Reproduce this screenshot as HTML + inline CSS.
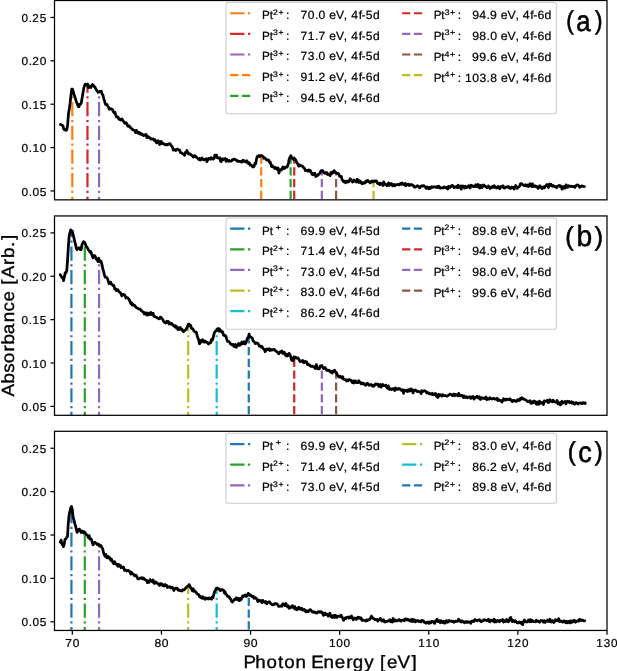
<!DOCTYPE html>
<html><head><meta charset="utf-8"><style>html,body{margin:0;padding:0;background:#fff;}svg{display:block;will-change:transform;}</style></head><body>
<svg width="617" height="671" viewBox="0 0 617 671" font-family='"Liberation Sans", sans-serif'>
<style>text{text-rendering:geometricPrecision;fill:#000;stroke:#000;stroke-width:0.22px;}</style>
<rect width="617" height="671" fill="#fff"/>
<clipPath id="clip0"><rect x="54.5" y="0.5" width="552.5" height="199.35"/></clipPath>
<g clip-path="url(#clip0)" stroke-width="2.229" fill="none">
<path d="M72.32,234.57V88.48" stroke="#ff7f0e" stroke-dasharray="14.27,3.57,2.23,3.57"/>
<path d="M87.47,234.57V83.09" stroke="#d62728" stroke-dasharray="14.27,3.57,2.23,3.57"/>
<path d="M99.06,234.57V91.22" stroke="#9467bd" stroke-dasharray="14.27,3.57,2.23,3.57"/>
<path d="M261.24,234.57V155.49" stroke="#ff7f0e" stroke-dasharray="8.25,3.57"/>
<path d="M290.65,234.57V156.97" stroke="#2ca02c" stroke-dasharray="8.25,3.57"/>
<path d="M294.21,234.57V158.04" stroke="#d62728" stroke-dasharray="8.25,3.57"/>
<path d="M321.84,234.57V170.59" stroke="#9467bd" stroke-dasharray="8.25,3.57"/>
<path d="M336.10,234.57V172.62" stroke="#8c564b" stroke-dasharray="8.25,3.57"/>
<path d="M373.52,234.57V181.09" stroke="#bcbd22" stroke-dasharray="8.25,3.57"/>
<path d="M60.5,124.5 61.3,124.8 62.1,125.4 62.9,125.7 63.7,128.9 64.5,129.8 65.3,129.7 66.1,130.4 66.9,129.2 67.7,124.2 68.5,113.6 69.3,108.9 70.1,103.0 70.9,95.6 71.7,89.1 72.5,89.2 73.3,92.0 74.1,94.7 74.9,96.9 75.7,99.6 76.5,102.2 77.3,103.6 78.1,106.5 78.9,106.8 79.7,104.3 80.5,104.2 81.3,102.8 82.1,98.1 82.9,93.6 83.7,88.4 84.5,85.9 85.3,84.2 86.1,84.6 86.9,85.1 87.7,84.0 88.5,87.6 89.3,86.0 90.1,86.0 90.9,87.5 91.7,85.6 92.5,84.4 93.3,85.2 94.1,86.5 94.9,86.9 95.7,88.7 96.5,90.0 97.3,91.3 98.1,92.4 98.9,92.0 99.7,91.4 100.5,91.3 101.3,91.2 102.1,94.1 102.9,95.0 103.7,98.4 104.5,100.7 105.3,104.0 106.1,104.8 106.9,104.5 107.7,106.0 108.5,107.0 109.3,109.2 110.1,109.2 110.9,108.6 111.7,109.1 112.5,109.6 113.3,111.3 114.1,112.9 114.9,112.3 115.7,115.0 116.5,116.9 117.3,116.8 118.1,117.2 118.9,119.1 119.7,119.3 120.5,120.0 121.3,119.2 122.1,119.0 122.9,120.8 123.7,121.3 124.5,123.0 125.3,123.4 126.1,122.7 126.9,123.8 127.7,126.0 128.5,126.4 129.3,126.0 130.1,127.1 130.9,128.0 131.7,128.6 132.5,129.6 133.3,129.9 134.1,130.3 134.9,130.9 135.7,132.6 136.5,130.4 137.3,132.7 138.1,133.2 138.9,132.2 139.7,133.8 140.5,133.2 141.3,134.6 142.1,134.0 142.9,134.9 143.7,135.6 144.5,135.2 145.3,134.5 146.1,134.4 146.9,137.6 147.7,136.7 148.5,136.7 149.3,137.8 150.1,137.9 150.9,139.1 151.7,138.8 152.5,139.1 153.3,139.0 154.1,140.4 154.9,139.7 155.7,141.5 156.5,142.8 157.3,141.0 158.1,140.7 158.9,143.0 159.7,144.5 160.5,141.5 161.3,141.4 162.1,143.5 162.9,143.1 163.7,144.0 164.5,144.2 165.3,144.9 166.1,144.3 166.9,144.9 167.7,144.5 168.5,143.9 169.3,144.2 170.1,143.7 170.9,145.5 171.7,145.9 172.5,147.2 173.3,150.1 174.1,149.4 174.9,149.8 175.7,150.5 176.5,149.3 177.3,149.1 178.1,149.4 178.9,150.2 179.7,150.1 180.5,152.6 181.3,152.6 182.1,153.3 182.9,153.9 183.7,154.0 184.5,155.4 185.3,152.5 186.1,152.9 186.9,150.5 187.7,152.6 188.5,154.0 189.3,153.7 190.1,153.8 190.9,154.8 191.7,155.5 192.5,155.7 193.3,157.1 194.1,155.9 194.9,155.6 195.7,156.6 196.5,157.2 197.3,158.0 198.1,158.6 198.9,159.6 199.7,158.4 200.5,160.1 201.3,158.7 202.1,157.9 202.9,159.2 203.7,159.9 204.5,159.5 205.3,159.4 206.1,158.6 206.9,161.7 207.7,160.2 208.5,158.5 209.3,158.6 210.1,159.2 210.9,157.7 211.7,158.9 212.5,158.1 213.3,159.1 214.1,158.5 214.9,155.1 215.7,156.7 216.5,155.1 217.3,157.8 218.1,157.6 218.9,158.4 219.7,157.8 220.5,160.9 221.3,161.6 222.1,158.9 222.9,159.9 223.7,158.8 224.5,159.2 225.3,158.5 226.1,161.4 226.9,159.4 227.7,160.3 228.5,161.2 229.3,160.5 230.1,161.1 230.9,161.1 231.7,160.9 232.5,159.5 233.3,159.5 234.1,159.1 234.9,159.3 235.7,160.0 236.5,160.1 237.3,161.4 238.1,160.9 238.9,161.4 239.7,161.4 240.5,161.9 241.3,161.1 242.1,162.1 242.9,160.4 243.7,160.3 244.5,161.4 245.3,161.8 246.1,161.6 246.9,160.7 247.7,163.1 248.5,163.5 249.3,162.7 250.1,165.1 250.9,164.8 251.7,165.3 252.5,166.8 253.3,167.0 254.1,166.4 254.9,163.3 255.7,163.8 256.5,159.2 257.3,156.4 258.1,156.6 258.9,155.4 259.7,156.6 260.5,156.0 261.3,155.4 262.1,155.8 262.9,156.3 263.7,158.3 264.5,157.9 265.3,158.2 266.1,159.4 266.9,160.1 267.7,160.0 268.5,159.9 269.3,162.0 270.1,161.9 270.9,164.3 271.7,166.6 272.5,165.8 273.3,167.1 274.1,167.3 274.9,168.5 275.7,167.5 276.5,168.3 277.3,169.6 278.1,167.9 278.9,173.1 279.7,170.6 280.5,169.7 281.3,170.1 282.1,168.5 282.9,166.9 283.7,168.6 284.5,168.5 285.3,167.2 286.1,167.0 286.9,167.2 287.7,165.8 288.5,162.8 289.3,158.6 290.1,157.0 290.9,155.6 291.7,157.8 292.5,158.5 293.3,159.4 294.1,158.0 294.9,159.5 295.7,160.0 296.5,162.0 297.3,163.1 298.1,164.9 298.9,166.2 299.7,165.0 300.5,165.2 301.3,166.0 302.1,166.2 302.9,166.5 303.7,167.8 304.5,168.3 305.3,170.5 306.1,170.1 306.9,170.7 307.7,171.1 308.5,169.9 309.3,171.2 310.1,170.3 310.9,171.7 311.7,173.5 312.5,174.7 313.3,173.5 314.1,174.5 314.9,173.3 315.7,176.5 316.5,176.0 317.3,175.7 318.1,174.6 318.9,174.2 319.7,173.4 320.5,171.6 321.3,170.6 322.1,170.5 322.9,170.8 323.7,172.5 324.5,173.1 325.3,172.7 326.1,173.5 326.9,172.5 327.7,174.5 328.5,174.1 329.3,174.6 330.1,175.6 330.9,172.5 331.7,173.8 332.5,172.0 333.3,172.7 334.1,170.6 334.9,171.6 335.7,172.6 336.5,173.3 337.3,173.3 338.1,173.4 338.9,174.4 339.7,176.4 340.5,176.5 341.3,176.4 342.1,179.7 342.9,180.7 343.7,181.7 344.5,181.2 345.3,182.7 346.1,181.1 346.9,182.2 347.7,181.1 348.5,181.9 349.3,181.2 350.1,178.7 350.9,179.7 351.7,180.5 352.5,182.1 353.3,181.7 354.1,179.9 354.9,181.1 355.7,181.1 356.5,182.0 357.3,179.2 358.1,180.6 358.9,182.5 359.7,180.8 360.5,181.3 361.3,183.0 362.1,183.8 362.9,182.7 363.7,183.4 364.5,182.4 365.3,182.8 366.1,180.9 366.9,181.5 367.7,180.4 368.5,181.4 369.3,181.8 370.1,182.9 370.9,182.2 371.7,181.0 372.5,181.9 373.3,181.8 374.1,180.8 374.9,180.8 375.7,181.5 376.5,181.0 377.3,183.1 378.1,183.7 378.9,183.1 379.7,184.7 380.5,183.2 381.3,184.0 382.1,183.6 382.9,185.5 383.7,181.9 384.5,183.6 385.3,184.5 386.1,184.5 386.9,185.8 387.7,184.2 388.5,182.9 389.3,185.5 390.1,183.6 390.9,184.3 391.7,183.7 392.5,185.8 393.3,185.7 394.1,184.4 394.9,185.8 395.7,185.0 396.5,184.6 397.3,184.7 398.1,184.3 398.9,184.8 399.7,184.3 400.5,183.5 401.3,184.5 402.1,183.0 402.9,183.8 403.7,184.1 404.5,185.1 405.3,183.5 406.1,185.7 406.9,184.5 407.7,184.4 408.5,184.2 409.3,185.5 410.1,185.3 410.9,184.5 411.7,184.6 412.5,185.3 413.3,185.3 414.1,187.0 414.9,187.3 415.7,186.9 416.5,186.4 417.3,185.7 418.1,186.1 418.9,186.8 419.7,187.9 420.5,186.8 421.3,185.8 422.1,186.1 422.9,185.8 423.7,185.6 424.5,186.3 425.3,186.8 426.1,188.4 426.9,187.0 427.7,188.2 428.5,188.7 429.3,187.2 430.1,188.6 430.9,187.8 431.7,186.7 432.5,187.3 433.3,187.1 434.1,186.8 434.9,186.8 435.7,187.1 436.5,187.5 437.3,186.4 438.1,187.3 438.9,186.1 439.7,187.8 440.5,188.2 441.3,187.8 442.1,187.8 442.9,188.0 443.7,186.8 444.5,187.1 445.3,187.6 446.1,187.9 446.9,187.2 447.7,189.0 448.5,186.4 449.3,187.3 450.1,187.5 450.9,186.2 451.7,185.7 452.5,185.4 453.3,186.6 454.1,187.6 454.9,186.9 455.7,187.0 456.5,186.6 457.3,187.6 458.1,185.2 458.9,187.4 459.7,187.3 460.5,186.0 461.3,189.2 462.1,186.0 462.9,186.3 463.7,186.1 464.5,188.1 465.3,186.2 466.1,187.6 466.9,187.5 467.7,187.1 468.5,185.6 469.3,186.1 470.1,188.0 470.9,185.2 471.7,185.5 472.5,186.0 473.3,186.7 474.1,186.1 474.9,186.5 475.7,184.8 476.5,186.6 477.3,186.3 478.1,184.4 478.9,187.3 479.7,188.0 480.5,185.4 481.3,186.2 482.1,187.6 482.9,185.2 483.7,185.0 484.5,185.7 485.3,186.5 486.1,186.5 486.9,187.6 487.7,187.3 488.5,185.9 489.3,187.4 490.1,188.5 490.9,187.7 491.7,187.4 492.5,186.4 493.3,187.3 494.1,185.7 494.9,187.4 495.7,186.9 496.5,188.1 497.3,187.7 498.1,186.4 498.9,187.6 499.7,188.7 500.5,186.6 501.3,187.0 502.1,186.7 502.9,185.8 503.7,187.8 504.5,188.1 505.3,187.5 506.1,187.0 506.9,186.8 507.7,187.2 508.5,186.5 509.3,188.0 510.1,188.3 510.9,188.3 511.7,187.0 512.5,187.6 513.3,187.4 514.1,189.1 514.9,187.5 515.7,185.5 516.5,187.3 517.3,188.4 518.1,187.0 518.9,186.8 519.7,185.8 520.5,183.7 521.3,183.7 522.1,184.1 522.9,185.0 523.7,185.3 524.5,185.7 525.3,184.8 526.1,186.1 526.9,185.2 527.7,185.0 528.5,186.6 529.3,185.2 530.1,183.8 530.9,185.4 531.7,186.6 532.5,183.9 533.3,186.5 534.1,186.6 534.9,185.8 535.7,185.8 536.5,186.8 537.3,186.7 538.1,188.4 538.9,187.6 539.7,185.8 540.5,186.3 541.3,187.6 542.1,188.6 542.9,187.0 543.7,186.8 544.5,187.9 545.3,186.1 546.1,185.6 546.9,184.5 547.7,185.2 548.5,187.5 549.3,184.2 550.1,185.5 550.9,184.2 551.7,185.6 552.5,186.4 553.3,185.5 554.1,186.5 554.9,186.6 555.7,186.5 556.5,187.7 557.3,186.9 558.1,186.0 558.9,185.6 559.7,185.5 560.5,186.8 561.3,186.3 562.1,189.2 562.9,188.4 563.7,186.6 564.5,186.4 565.3,188.1 566.1,184.8 566.9,186.1 567.7,187.3 568.5,185.7 569.3,186.0 570.1,186.0 570.9,186.7 571.7,186.2 572.5,186.5 573.3,186.7 574.1,186.4 574.9,187.4 575.7,185.9 576.5,185.2 577.3,184.9 578.1,185.0 578.9,186.0 579.7,187.4 580.5,186.7 581.3,186.1 582.1,185.8 582.9,186.3 583.7,186.5 584.5,186.5" stroke="#000" stroke-width="2.75" stroke-linejoin="round" stroke-linecap="round"/>
</g>
<rect x="226.0" y="2.50" width="330.35" height="111.30" rx="2.2" fill="#fff" fill-opacity="0.8" stroke="#cccccc" stroke-width="1.1"/>
<path d="M230.15,13.25h20.6" stroke="#ff7f0e" stroke-width="2.229" stroke-dasharray="14.27,3.57,2.23,3.57" fill="none"/>
<text transform="translate(262.35 19.15) scale(0.9772 1)" x="-0.29 7.55" y="0" font-size="11.92">Pt</text>
<text transform="translate(273.05 14.65) scale(1.0963 1)" x="-0.12 4.91" y="0" font-size="7.91">2+</text>
<text transform="translate(285.90 19.15) scale(1.0256 1)" x="0.20" y="0" font-size="11.92">:</text>
<text transform="translate(300.40 19.15) scale(1.0153 1)" x="0.20 7.30 14.27 17.92 24.78 28.45 35.00 42.78 46.32 50.08 57.38 60.27 64.44 71.50" y="0" font-size="11.92">70.0 eV, 4f-5d</text>
<path d="M230.15,33.88h20.6" stroke="#d62728" stroke-width="2.229" stroke-dasharray="14.27,3.57,2.23,3.57" fill="none"/>
<text transform="translate(262.35 39.78) scale(0.9772 1)" x="-0.29 7.55" y="0" font-size="11.92">Pt</text>
<text transform="translate(273.05 35.28) scale(1.0920 1)" x="-0.01 4.94" y="0" font-size="7.91">3+</text>
<text transform="translate(285.90 39.78) scale(1.0256 1)" x="0.20" y="0" font-size="11.92">:</text>
<text transform="translate(300.40 39.78) scale(1.0092 1)" x="0.22 7.31 14.37 18.03 24.93 28.64 35.23 43.05 46.60 50.40 57.74 60.65 64.85 71.95" y="0" font-size="11.92">71.7 eV, 4f-5d</text>
<path d="M230.15,54.51h20.6" stroke="#9467bd" stroke-width="2.229" stroke-dasharray="14.27,3.57,2.23,3.57" fill="none"/>
<text transform="translate(262.35 60.41) scale(0.9772 1)" x="-0.29 7.55" y="0" font-size="11.92">Pt</text>
<text transform="translate(273.05 55.91) scale(1.0920 1)" x="-0.01 4.94" y="0" font-size="7.91">3+</text>
<text transform="translate(285.90 60.41) scale(1.0256 1)" x="0.20" y="0" font-size="11.92">:</text>
<text transform="translate(300.40 60.41) scale(1.0113 1)" x="0.21 7.36 14.33 18.01 24.88 28.58 35.15 42.96 46.50 50.29 57.62 60.52 64.71 71.79" y="0" font-size="11.92">73.0 eV, 4f-5d</text>
<path d="M230.15,75.14h20.6" stroke="#ff7f0e" stroke-width="2.229" stroke-dasharray="8.25,3.57" fill="none"/>
<text transform="translate(262.35 81.04) scale(0.9772 1)" x="-0.29 7.55" y="0" font-size="11.92">Pt</text>
<text transform="translate(273.05 76.54) scale(1.0920 1)" x="-0.01 4.94" y="0" font-size="7.91">3+</text>
<text transform="translate(285.90 81.04) scale(1.0256 1)" x="0.20" y="0" font-size="11.92">:</text>
<text transform="translate(300.40 81.04) scale(1.0225 1)" x="0.16 7.17 14.16 17.63 24.61 28.23 34.72 42.46 45.99 49.70 56.96 59.83 64.01 70.97" y="0" font-size="11.92">91.2 eV, 4f-6d</text>
<path d="M230.15,95.77h20.6" stroke="#2ca02c" stroke-width="2.229" stroke-dasharray="8.25,3.57" fill="none"/>
<text transform="translate(262.35 101.67) scale(0.9772 1)" x="-0.29 7.55" y="0" font-size="11.92">Pt</text>
<text transform="translate(273.05 97.17) scale(1.0920 1)" x="-0.01 4.94" y="0" font-size="7.91">3+</text>
<text transform="translate(285.90 101.67) scale(1.0256 1)" x="0.20" y="0" font-size="11.92">:</text>
<text transform="translate(300.40 101.67) scale(1.0240 1)" x="0.16 7.21 14.13 17.70 24.57 28.18 34.66 42.40 45.92 49.62 56.88 59.74 63.91 70.86" y="0" font-size="11.92">94.5 eV, 4f-6d</text>
<path d="M402.10,13.25h20.6" stroke="#d62728" stroke-width="2.229" stroke-dasharray="8.25,3.57" fill="none"/>
<text transform="translate(433.95 19.15) scale(0.9772 1)" x="-0.29 7.55" y="0" font-size="11.92">Pt</text>
<text transform="translate(444.65 14.65) scale(1.0920 1)" x="-0.01 4.94" y="0" font-size="7.91">3+</text>
<text transform="translate(457.50 19.15) scale(1.0256 1)" x="0.20" y="0" font-size="11.92">:</text>
<text transform="translate(472.00 19.15) scale(1.0330 1)" x="0.13 7.12 14.00 17.52 24.36 27.90 34.33 42.02 45.52 49.16 56.36 59.20 63.32 70.21" y="0" font-size="11.92">94.9 eV, 4f-6d</text>
<path d="M402.10,33.88h20.6" stroke="#9467bd" stroke-width="2.229" stroke-dasharray="8.25,3.57" fill="none"/>
<text transform="translate(433.95 39.78) scale(0.9772 1)" x="-0.29 7.55" y="0" font-size="11.92">Pt</text>
<text transform="translate(444.65 35.28) scale(1.0920 1)" x="-0.01 4.94" y="0" font-size="7.91">3+</text>
<text transform="translate(457.50 39.78) scale(1.0256 1)" x="0.20" y="0" font-size="11.92">:</text>
<text transform="translate(472.00 39.78) scale(1.0310 1)" x="0.13 7.14 14.03 17.60 24.40 27.97 34.40 42.10 45.61 49.27 56.48 59.32 63.45 70.36" y="0" font-size="11.92">98.0 eV, 4f-6d</text>
<path d="M402.10,54.51h20.6" stroke="#8c564b" stroke-width="2.229" stroke-dasharray="8.25,3.57" fill="none"/>
<text transform="translate(433.95 61.16) scale(0.9772 1)" x="-0.29 7.55" y="0" font-size="11.92">Pt</text>
<text transform="translate(444.65 56.66) scale(1.1083 1)" x="-0.05 4.83" y="0" font-size="7.91">4+</text>
<text transform="translate(457.50 61.16) scale(1.0256 1)" x="0.20" y="0" font-size="11.92">:</text>
<text transform="translate(472.00 61.16) scale(1.0368 1)" x="0.11 7.05 13.94 17.48 24.27 27.79 34.19 41.86 45.36 48.97 56.15 58.98 63.08 69.95" y="0" font-size="11.92">99.6 eV, 4f-6d</text>
<path d="M402.10,75.14h20.6" stroke="#bcbd22" stroke-width="2.229" stroke-dasharray="8.25,3.57" fill="none"/>
<text transform="translate(433.95 81.79) scale(0.9772 1)" x="-0.29 7.55" y="0" font-size="11.92">Pt</text>
<text transform="translate(444.65 77.29) scale(1.1083 1)" x="-0.05 4.83" y="0" font-size="7.91">4+</text>
<text transform="translate(457.50 81.79) scale(1.0256 1)" x="0.20" y="0" font-size="11.92">:</text>
<text transform="translate(464.81 81.79) scale(1.0178 1)" x="0.15 7.28 14.36 21.29 24.93 31.78 35.44 41.96 49.73 53.27 57.01 64.30 67.18 71.38 78.38" y="0" font-size="11.92">103.8 eV, 4f-6d</text>
<text transform="translate(565.15 30.95) scale(0.8784 1)" font-size="29.12" style="stroke-width:0.6px"><tspan x="1.22" y="-1.80" font-size="25.73">(</tspan><tspan x="12.69" y="0">a</tspan><tspan x="33.99" y="-1.80" font-size="25.73">)</tspan></text>
<rect x="54.5" y="0.5" width="552.5" height="199.35" fill="none" stroke="#000" stroke-width="1.25"/>
<path d="M50.5,190.95H54.5" stroke="#000" stroke-width="1.25"/>
<text transform="translate(21.21 195.50) scale(1.0272 1)" x="0.33 7.25 10.96 18.01" y="0" font-size="11.56">0.05</text>
<path d="M50.5,147.57H54.5" stroke="#000" stroke-width="1.25"/>
<text transform="translate(21.21 152.12) scale(1.0318 1)" x="0.31 7.21 10.84 17.96" y="0" font-size="11.56">0.10</text>
<path d="M50.5,104.20H54.5" stroke="#000" stroke-width="1.25"/>
<text transform="translate(21.21 108.75) scale(1.0130 1)" x="0.38 7.38 11.11 18.31" y="0" font-size="11.56">0.15</text>
<path d="M50.5,60.82H54.5" stroke="#000" stroke-width="1.25"/>
<text transform="translate(21.21 65.37) scale(1.0341 1)" x="0.30 7.19 10.72 17.91" y="0" font-size="11.56">0.20</text>
<path d="M50.5,17.45H54.5" stroke="#000" stroke-width="1.25"/>
<text transform="translate(21.21 22.00) scale(1.0155 1)" x="0.37 7.35 10.98 18.26" y="0" font-size="11.56">0.25</text>
<clipPath id="clip1"><rect x="54.5" y="215.95" width="552.5" height="199.35000000000002"/></clipPath>
<g clip-path="url(#clip1)" stroke-width="2.229" fill="none">
<path d="M71.43,449.77V230.33" stroke="#1f77b4" stroke-dasharray="14.27,3.57,2.23,3.57"/>
<path d="M84.80,449.77V242.20" stroke="#2ca02c" stroke-dasharray="14.27,3.57,2.23,3.57"/>
<path d="M99.06,449.77V259.34" stroke="#9467bd" stroke-dasharray="14.27,3.57,2.23,3.57"/>
<path d="M188.17,449.77V325.52" stroke="#bcbd22" stroke-dasharray="14.27,3.57,2.23,3.57"/>
<path d="M216.69,449.77V328.62" stroke="#17becf" stroke-dasharray="14.27,3.57,2.23,3.57"/>
<path d="M248.77,449.77V336.03" stroke="#1f77b4" stroke-dasharray="8.25,3.57"/>
<path d="M294.21,449.77V356.47" stroke="#d62728" stroke-dasharray="8.25,3.57"/>
<path d="M321.84,449.77V365.85" stroke="#9467bd" stroke-dasharray="8.25,3.57"/>
<path d="M336.10,449.77V371.99" stroke="#8c564b" stroke-dasharray="8.25,3.57"/>
<path d="M60.3,274.7 61.1,275.9 61.9,277.6 62.7,277.3 63.5,280.6 64.3,277.4 65.1,273.0 65.9,273.1 66.7,271.0 67.5,261.2 68.3,247.8 69.1,236.5 69.9,232.4 70.7,230.0 71.5,230.8 72.3,231.1 73.1,235.0 73.9,237.5 74.7,241.7 75.5,244.2 76.3,248.4 77.1,249.7 77.9,248.8 78.7,247.7 79.5,248.1 80.3,249.6 81.1,249.7 81.9,245.0 82.7,243.1 83.5,241.7 84.3,242.1 85.1,243.1 85.9,245.6 86.7,246.9 87.5,248.0 88.3,249.7 89.1,250.6 89.9,252.2 90.7,251.4 91.5,253.6 92.3,256.1 93.1,257.8 93.9,255.5 94.7,255.5 95.5,256.9 96.3,259.3 97.1,259.6 97.9,261.6 98.7,258.2 99.5,260.8 100.3,261.8 101.1,261.2 101.9,264.3 102.7,268.5 103.5,271.2 104.3,274.3 105.1,277.1 105.9,276.8 106.7,277.7 107.5,278.7 108.3,281.1 109.1,283.8 109.9,282.7 110.7,282.2 111.5,284.3 112.3,284.5 113.1,285.6 113.9,285.5 114.7,289.0 115.5,288.7 116.3,290.5 117.1,289.8 117.9,289.7 118.7,291.3 119.5,292.2 120.3,292.5 121.1,294.1 121.9,295.9 122.7,294.6 123.5,294.3 124.3,294.9 125.1,295.6 125.9,298.0 126.7,297.7 127.5,297.7 128.3,298.7 129.1,299.3 129.9,301.6 130.7,303.6 131.5,302.8 132.3,305.2 133.1,304.2 133.9,305.4 134.7,305.4 135.5,306.7 136.3,307.6 137.1,307.9 137.9,308.3 138.7,308.9 139.5,309.4 140.3,309.1 141.1,310.4 141.9,311.1 142.7,311.7 143.5,312.0 144.3,314.0 145.1,312.9 145.9,312.9 146.7,315.1 147.5,313.0 148.3,314.8 149.1,313.5 149.9,314.5 150.7,312.4 151.5,314.5 152.3,313.5 153.1,313.2 153.9,316.3 154.7,316.6 155.5,317.0 156.3,317.0 157.1,317.9 157.9,318.0 158.7,318.8 159.5,318.6 160.3,317.1 161.1,317.5 161.9,318.8 162.7,319.3 163.5,321.2 164.3,322.3 165.1,322.7 165.9,323.1 166.7,321.2 167.5,322.2 168.3,321.4 169.1,324.0 169.9,322.9 170.7,324.0 171.5,323.4 172.3,324.1 173.1,325.5 173.9,325.7 174.7,326.8 175.5,325.7 176.3,327.9 177.1,327.0 177.9,329.5 178.7,328.0 179.5,329.3 180.3,327.5 181.1,329.4 181.9,329.1 182.7,330.8 183.5,331.7 184.3,330.6 185.1,330.2 185.9,329.6 186.7,328.3 187.5,326.5 188.3,324.2 189.1,324.1 189.9,325.8 190.7,325.4 191.5,328.5 192.3,328.4 193.1,329.2 193.9,331.0 194.7,331.6 195.5,332.1 196.3,332.1 197.1,335.5 197.9,338.0 198.7,339.9 199.5,343.9 200.3,342.9 201.1,340.3 201.9,341.4 202.7,339.7 203.5,342.0 204.3,342.1 205.1,341.0 205.9,341.6 206.7,342.5 207.5,342.4 208.3,344.0 209.1,343.5 209.9,342.9 210.7,342.6 211.5,339.4 212.3,340.2 213.1,338.0 213.9,334.4 214.7,332.0 215.5,331.2 216.3,330.5 217.1,329.1 217.9,328.5 218.7,331.1 219.5,328.9 220.3,331.2 221.1,330.7 221.9,332.3 222.7,332.0 223.5,335.1 224.3,335.5 225.1,335.3 225.9,336.4 226.7,339.0 227.5,341.4 228.3,341.2 229.1,342.0 229.9,342.6 230.7,344.1 231.5,344.3 232.3,344.9 233.1,344.4 233.9,346.5 234.7,346.6 235.5,344.5 236.3,347.3 237.1,346.0 237.9,344.8 238.7,343.5 239.5,345.3 240.3,344.9 241.1,343.5 241.9,342.0 242.7,343.8 243.5,342.0 244.3,341.7 245.1,344.0 245.9,342.7 246.7,340.4 247.5,337.9 248.3,337.4 249.1,334.2 249.9,336.9 250.7,337.0 251.5,337.4 252.3,338.2 253.1,340.9 253.9,341.5 254.7,342.5 255.5,343.6 256.3,342.9 257.1,343.2 257.9,343.3 258.7,344.9 259.5,346.2 260.3,345.8 261.1,346.9 261.9,346.5 262.7,348.0 263.5,348.8 264.3,349.4 265.1,351.7 265.9,350.7 266.7,349.2 267.5,349.0 268.3,349.7 269.1,348.8 269.9,350.5 270.7,349.3 271.5,350.1 272.3,349.6 273.1,350.0 273.9,349.3 274.7,349.7 275.5,350.7 276.3,351.3 277.1,352.0 277.9,352.7 278.7,353.8 279.5,352.8 280.3,351.6 281.1,352.0 281.9,350.9 282.7,353.3 283.5,353.1 284.3,352.2 285.1,354.7 285.9,355.8 286.7,354.1 287.5,356.0 288.3,355.4 289.1,353.4 289.9,354.4 290.7,356.6 291.5,360.0 292.3,360.5 293.1,360.8 293.9,356.8 294.7,357.3 295.5,357.2 296.3,358.2 297.1,357.8 297.9,357.9 298.7,359.1 299.5,360.6 300.3,361.6 301.1,361.1 301.9,361.3 302.7,360.5 303.5,362.6 304.3,362.6 305.1,361.3 305.9,362.3 306.7,362.0 307.5,364.5 308.3,364.2 309.1,364.5 309.9,365.6 310.7,366.3 311.5,366.3 312.3,366.1 313.1,366.6 313.9,366.8 314.7,367.9 315.5,368.6 316.3,364.7 317.1,367.4 317.9,368.8 318.7,368.9 319.5,368.6 320.3,365.9 321.1,366.2 321.9,365.5 322.7,367.1 323.5,368.6 324.3,368.2 325.1,367.5 325.9,368.9 326.7,370.3 327.5,370.1 328.3,370.7 329.1,370.1 329.9,371.5 330.7,372.1 331.5,371.5 332.3,373.0 333.1,371.3 333.9,370.7 334.7,370.2 335.5,372.4 336.3,372.3 337.1,374.5 337.9,375.4 338.7,377.0 339.5,377.1 340.3,376.2 341.1,377.1 341.9,378.1 342.7,376.6 343.5,379.1 344.3,379.2 345.1,379.7 345.9,379.6 346.7,381.0 347.5,380.1 348.3,380.5 349.1,379.5 349.9,379.9 350.7,380.0 351.5,381.3 352.3,382.6 353.1,381.0 353.9,383.0 354.7,380.9 355.5,380.9 356.3,382.6 357.1,382.5 357.9,382.7 358.7,380.8 359.5,382.0 360.3,382.5 361.1,383.7 361.9,383.0 362.7,383.9 363.5,383.3 364.3,384.5 365.1,384.8 365.9,385.3 366.7,383.6 367.5,383.3 368.3,384.1 369.1,385.4 369.9,384.6 370.7,384.8 371.5,384.6 372.3,386.1 373.1,385.5 373.9,386.3 374.7,385.0 375.5,383.9 376.3,384.3 377.1,384.1 377.9,384.1 378.7,386.4 379.5,386.2 380.3,384.4 381.1,387.1 381.9,385.6 382.7,384.4 383.5,385.6 384.3,385.6 385.1,385.5 385.9,385.1 386.7,387.4 387.5,388.2 388.3,385.9 389.1,389.1 389.9,389.4 390.7,388.8 391.5,389.6 392.3,389.2 393.1,388.6 393.9,389.0 394.7,390.5 395.5,387.9 396.3,389.4 397.1,389.3 397.9,388.7 398.7,389.1 399.5,388.5 400.3,389.2 401.1,390.1 401.9,390.6 402.7,389.7 403.5,393.3 404.3,390.2 405.1,390.9 405.9,390.6 406.7,390.2 407.5,391.5 408.3,389.7 409.1,391.1 409.9,390.8 410.7,388.8 411.5,390.9 412.3,389.7 413.1,393.0 413.9,390.5 414.7,390.4 415.5,389.9 416.3,390.7 417.1,391.6 417.9,391.4 418.7,391.3 419.5,391.8 420.3,392.1 421.1,393.5 421.9,390.7 422.7,391.6 423.5,391.2 424.3,390.7 425.1,391.0 425.9,391.4 426.7,393.0 427.5,392.5 428.3,392.5 429.1,393.8 429.9,393.8 430.7,393.6 431.5,394.3 432.3,393.3 433.1,394.7 433.9,394.7 434.7,394.0 435.5,393.4 436.3,396.0 437.1,394.8 437.9,397.5 438.7,394.3 439.5,395.8 440.3,394.7 441.1,395.5 441.9,396.1 442.7,394.7 443.5,395.3 444.3,395.6 445.1,395.5 445.9,395.8 446.7,396.2 447.5,395.9 448.3,395.4 449.1,394.8 449.9,394.1 450.7,394.4 451.5,394.6 452.3,395.7 453.1,394.7 453.9,394.0 454.7,395.7 455.5,394.5 456.3,394.6 457.1,395.2 457.9,395.9 458.7,393.4 459.5,394.7 460.3,395.9 461.1,395.6 461.9,395.3 462.7,395.7 463.5,397.5 464.3,396.0 465.1,397.3 465.9,397.6 466.7,396.7 467.5,397.8 468.3,397.1 469.1,397.1 469.9,396.7 470.7,398.4 471.5,397.2 472.3,397.0 473.1,396.5 473.9,399.1 474.7,398.1 475.5,397.4 476.3,396.9 477.1,396.2 477.9,397.9 478.7,398.1 479.5,396.8 480.3,399.3 481.1,399.1 481.9,397.7 482.7,398.1 483.5,398.2 484.3,398.7 485.1,398.3 485.9,396.9 486.7,399.6 487.5,398.5 488.3,399.2 489.1,399.2 489.9,397.8 490.7,398.4 491.5,398.8 492.3,399.0 493.1,398.4 493.9,398.3 494.7,399.2 495.5,398.8 496.3,399.4 497.1,398.3 497.9,400.5 498.7,399.6 499.5,400.1 500.3,400.6 501.1,400.9 501.9,402.1 502.7,400.4 503.5,398.7 504.3,400.0 505.1,399.2 505.9,400.1 506.7,399.2 507.5,399.3 508.3,399.6 509.1,399.6 509.9,398.7 510.7,399.9 511.5,400.6 512.3,401.7 513.1,400.4 513.9,400.3 514.7,401.0 515.5,400.8 516.3,401.6 517.1,400.4 517.9,399.5 518.7,400.5 519.5,400.4 520.3,398.5 521.1,399.1 521.9,397.6 522.7,398.9 523.5,398.7 524.3,399.5 525.1,399.6 525.9,400.2 526.7,400.7 527.5,401.6 528.3,401.6 529.1,401.2 529.9,400.7 530.7,403.1 531.5,403.4 532.3,401.8 533.1,402.9 533.9,401.1 534.7,401.2 535.5,402.6 536.3,404.2 537.1,402.0 537.9,402.3 538.7,404.4 539.5,401.2 540.3,403.4 541.1,403.1 541.9,402.4 542.7,402.5 543.5,404.5 544.3,400.9 545.1,401.4 545.9,401.4 546.7,400.8 547.5,400.2 548.3,402.7 549.1,401.5 549.9,399.7 550.7,400.7 551.5,401.7 552.3,401.8 553.1,400.2 553.9,401.6 554.7,402.0 555.5,402.2 556.3,402.3 557.1,400.4 557.9,403.8 558.7,402.5 559.5,404.0 560.3,405.0 561.1,402.3 561.9,401.3 562.7,403.2 563.5,402.3 564.3,402.0 565.1,401.5 565.9,403.9 566.7,402.0 567.5,401.2 568.3,402.0 569.1,401.5 569.9,402.7 570.7,402.2 571.5,401.8 572.3,403.3 573.1,402.3 573.9,403.6 574.7,404.2 575.5,402.8 576.3,402.6 577.1,403.3 577.9,404.0 578.7,403.1 579.5,403.2 580.3,403.0 581.1,403.4 581.9,403.7 582.7,402.6 583.5,402.8 584.3,403.3 585.1,402.8 585.2,403.5" stroke="#000" stroke-width="2.75" stroke-linejoin="round" stroke-linecap="round"/>
</g>
<rect x="226.0" y="217.95" width="330.35" height="111.30" rx="2.2" fill="#fff" fill-opacity="0.8" stroke="#cccccc" stroke-width="1.1"/>
<path d="M230.15,228.70h20.6" stroke="#1f77b4" stroke-width="2.229" stroke-dasharray="14.27,3.57,2.23,3.57" fill="none"/>
<text transform="translate(262.35 234.60) scale(0.9772 1)" x="-0.29 7.55" y="0" font-size="11.92">Pt</text>
<text transform="translate(275.07 230.10) scale(1.2213 1)" x="0.26" y="0" font-size="7.91">+</text>
<text transform="translate(285.90 234.60) scale(1.0256 1)" x="0.20" y="0" font-size="11.92">:</text>
<text transform="translate(300.40 234.60) scale(1.0275 1)" x="0.18 7.14 14.08 17.64 24.49 28.07 34.53 42.25 45.77 49.44 56.68 59.53 63.64 70.61" y="0" font-size="11.92">69.9 eV, 4f-5d</text>
<path d="M230.15,249.33h20.6" stroke="#2ca02c" stroke-width="2.229" stroke-dasharray="14.27,3.57,2.23,3.57" fill="none"/>
<text transform="translate(262.35 255.23) scale(0.9772 1)" x="-0.29 7.55" y="0" font-size="11.92">Pt</text>
<text transform="translate(273.05 250.73) scale(1.0963 1)" x="-0.12 4.91" y="0" font-size="7.91">2+</text>
<text transform="translate(285.90 255.23) scale(1.0256 1)" x="0.20" y="0" font-size="11.92">:</text>
<text transform="translate(300.40 255.23) scale(1.0112 1)" x="0.21 7.28 14.33 18.01 24.88 28.58 35.15 42.96 46.51 50.29 57.62 60.52 64.72 71.80" y="0" font-size="11.92">71.4 eV, 4f-5d</text>
<path d="M230.15,269.96h20.6" stroke="#9467bd" stroke-width="2.229" stroke-dasharray="14.27,3.57,2.23,3.57" fill="none"/>
<text transform="translate(262.35 275.86) scale(0.9772 1)" x="-0.29 7.55" y="0" font-size="11.92">Pt</text>
<text transform="translate(273.05 271.36) scale(1.0920 1)" x="-0.01 4.94" y="0" font-size="7.91">3+</text>
<text transform="translate(285.90 275.86) scale(1.0256 1)" x="0.20" y="0" font-size="11.92">:</text>
<text transform="translate(300.40 275.86) scale(1.0113 1)" x="0.21 7.36 14.33 18.01 24.88 28.58 35.15 42.96 46.50 50.29 57.62 60.52 64.71 71.79" y="0" font-size="11.92">73.0 eV, 4f-5d</text>
<path d="M230.15,290.59h20.6" stroke="#bcbd22" stroke-width="2.229" stroke-dasharray="14.27,3.57,2.23,3.57" fill="none"/>
<text transform="translate(262.35 296.49) scale(0.9772 1)" x="-0.29 7.55" y="0" font-size="11.92">Pt</text>
<text transform="translate(273.05 291.99) scale(1.0963 1)" x="-0.12 4.91" y="0" font-size="7.91">2+</text>
<text transform="translate(285.90 296.49) scale(1.0256 1)" x="0.20" y="0" font-size="11.92">:</text>
<text transform="translate(300.40 296.49) scale(1.0236 1)" x="0.19 7.23 14.14 17.75 24.58 28.19 34.68 42.42 45.94 49.64 56.90 59.76 63.93 70.89" y="0" font-size="11.92">83.0 eV, 4f-6d</text>
<path d="M230.15,311.22h20.6" stroke="#17becf" stroke-width="2.229" stroke-dasharray="14.27,3.57,2.23,3.57" fill="none"/>
<text transform="translate(262.35 317.12) scale(0.9772 1)" x="-0.29 7.55" y="0" font-size="11.92">Pt</text>
<text transform="translate(273.05 312.62) scale(1.0963 1)" x="-0.12 4.91" y="0" font-size="7.91">2+</text>
<text transform="translate(285.90 317.12) scale(1.0256 1)" x="0.20" y="0" font-size="11.92">:</text>
<text transform="translate(300.40 317.12) scale(1.0278 1)" x="0.18 7.17 14.08 17.52 24.48 28.06 34.52 42.24 45.75 49.43 56.66 59.51 63.66 70.59" y="0" font-size="11.92">86.2 eV, 4f-6d</text>
<path d="M402.10,228.70h20.6" stroke="#1f77b4" stroke-width="2.229" stroke-dasharray="8.25,3.57" fill="none"/>
<text transform="translate(433.95 234.60) scale(0.9772 1)" x="-0.29 7.55" y="0" font-size="11.92">Pt</text>
<text transform="translate(444.65 230.10) scale(1.0963 1)" x="-0.12 4.91" y="0" font-size="7.91">2+</text>
<text transform="translate(457.50 234.60) scale(1.0256 1)" x="0.20" y="0" font-size="11.92">:</text>
<text transform="translate(472.00 234.60) scale(1.0322 1)" x="0.16 7.10 14.01 17.58 24.38 27.93 34.36 42.05 45.56 49.21 56.41 59.25 63.38 70.28" y="0" font-size="11.92">89.8 eV, 4f-6d</text>
<path d="M402.10,249.33h20.6" stroke="#d62728" stroke-width="2.229" stroke-dasharray="8.25,3.57" fill="none"/>
<text transform="translate(433.95 255.23) scale(0.9772 1)" x="-0.29 7.55" y="0" font-size="11.92">Pt</text>
<text transform="translate(444.65 250.73) scale(1.0920 1)" x="-0.01 4.94" y="0" font-size="7.91">3+</text>
<text transform="translate(457.50 255.23) scale(1.0256 1)" x="0.20" y="0" font-size="11.92">:</text>
<text transform="translate(472.00 255.23) scale(1.0330 1)" x="0.13 7.12 14.00 17.52 24.36 27.90 34.33 42.02 45.52 49.16 56.36 59.20 63.32 70.21" y="0" font-size="11.92">94.9 eV, 4f-6d</text>
<path d="M402.10,269.96h20.6" stroke="#9467bd" stroke-width="2.229" stroke-dasharray="8.25,3.57" fill="none"/>
<text transform="translate(433.95 275.86) scale(0.9772 1)" x="-0.29 7.55" y="0" font-size="11.92">Pt</text>
<text transform="translate(444.65 271.36) scale(1.0920 1)" x="-0.01 4.94" y="0" font-size="7.91">3+</text>
<text transform="translate(457.50 275.86) scale(1.0256 1)" x="0.20" y="0" font-size="11.92">:</text>
<text transform="translate(472.00 275.86) scale(1.0310 1)" x="0.13 7.14 14.03 17.60 24.40 27.97 34.40 42.10 45.61 49.27 56.48 59.32 63.45 70.36" y="0" font-size="11.92">98.0 eV, 4f-6d</text>
<path d="M402.10,290.59h20.6" stroke="#8c564b" stroke-width="2.229" stroke-dasharray="8.25,3.57" fill="none"/>
<text transform="translate(433.95 297.24) scale(0.9772 1)" x="-0.29 7.55" y="0" font-size="11.92">Pt</text>
<text transform="translate(444.65 292.74) scale(1.1083 1)" x="-0.05 4.83" y="0" font-size="7.91">4+</text>
<text transform="translate(457.50 297.24) scale(1.0256 1)" x="0.20" y="0" font-size="11.92">:</text>
<text transform="translate(472.00 297.24) scale(1.0368 1)" x="0.11 7.05 13.94 17.48 24.27 27.79 34.19 41.86 45.36 48.97 56.15 58.98 63.08 69.95" y="0" font-size="11.92">99.6 eV, 4f-6d</text>
<text transform="translate(564.54 246.40) scale(0.9678 1)" font-size="29.12" style="stroke-width:0.6px"><tspan x="0.64" y="-1.80" font-size="25.73">(</tspan><tspan x="12.27" y="0">b</tspan><tspan x="31.15" y="-1.80" font-size="25.73">)</tspan></text>
<rect x="54.5" y="215.95" width="552.5" height="199.35000000000002" fill="none" stroke="#000" stroke-width="1.25"/>
<path d="M50.5,406.40H54.5" stroke="#000" stroke-width="1.25"/>
<text transform="translate(21.21 410.95) scale(1.0272 1)" x="0.33 7.25 10.96 18.01" y="0" font-size="11.56">0.05</text>
<path d="M50.5,363.02H54.5" stroke="#000" stroke-width="1.25"/>
<text transform="translate(21.21 367.57) scale(1.0318 1)" x="0.31 7.21 10.84 17.96" y="0" font-size="11.56">0.10</text>
<path d="M50.5,319.65H54.5" stroke="#000" stroke-width="1.25"/>
<text transform="translate(21.21 324.20) scale(1.0130 1)" x="0.38 7.38 11.11 18.31" y="0" font-size="11.56">0.15</text>
<path d="M50.5,276.27H54.5" stroke="#000" stroke-width="1.25"/>
<text transform="translate(21.21 280.82) scale(1.0341 1)" x="0.30 7.19 10.72 17.91" y="0" font-size="11.56">0.20</text>
<path d="M50.5,232.90H54.5" stroke="#000" stroke-width="1.25"/>
<text transform="translate(21.21 237.45) scale(1.0155 1)" x="0.37 7.35 10.98 18.26" y="0" font-size="11.56">0.25</text>
<clipPath id="clip2"><rect x="54.5" y="431.3" width="552.5" height="199.15000000000003"/></clipPath>
<g clip-path="url(#clip2)" stroke-width="2.229" fill="none">
<path d="M71.43,665.02V507.13" stroke="#1f77b4" stroke-dasharray="14.27,3.57,2.23,3.57"/>
<path d="M84.80,665.02V532.80" stroke="#2ca02c" stroke-dasharray="14.27,3.57,2.23,3.57"/>
<path d="M99.06,665.02V544.61" stroke="#9467bd" stroke-dasharray="14.27,3.57,2.23,3.57"/>
<path d="M188.17,665.02V585.70" stroke="#bcbd22" stroke-dasharray="14.27,3.57,2.23,3.57"/>
<path d="M216.69,665.02V588.58" stroke="#17becf" stroke-dasharray="14.27,3.57,2.23,3.57"/>
<path d="M248.77,665.02V593.68" stroke="#1f77b4" stroke-dasharray="8.25,3.57"/>
<path d="M60.3,542.1 61.1,540.1 61.9,544.0 62.7,544.9 63.5,546.6 64.3,543.6 65.1,539.0 65.9,539.0 66.7,537.4 67.5,536.7 68.3,523.1 69.1,515.0 69.9,511.3 70.7,508.0 71.5,506.5 72.3,509.7 73.1,517.1 73.9,519.8 74.7,523.4 75.5,525.6 76.3,529.2 77.1,532.4 77.9,530.9 78.7,529.3 79.5,529.2 80.3,530.6 81.1,532.5 81.9,531.1 82.7,531.5 83.5,532.9 84.3,531.8 85.1,532.7 85.9,534.1 86.7,534.8 87.5,535.6 88.3,537.6 89.1,535.6 89.9,539.1 90.7,538.6 91.5,539.6 92.3,542.8 93.1,544.8 93.9,543.3 94.7,542.2 95.5,543.2 96.3,543.3 97.1,544.5 97.9,544.0 98.7,544.3 99.5,546.1 100.3,545.6 101.1,545.6 101.9,547.8 102.7,548.9 103.5,552.5 104.3,554.9 105.1,556.2 105.9,554.5 106.7,557.6 107.5,557.8 108.3,556.5 109.1,558.2 109.9,558.0 110.7,560.4 111.5,559.2 112.3,561.0 113.1,562.9 113.9,563.8 114.7,561.7 115.5,563.5 116.3,564.5 117.1,564.2 117.9,566.3 118.7,564.5 119.5,566.1 120.3,565.4 121.1,567.7 121.9,567.2 122.7,567.5 123.5,567.0 124.3,570.3 125.1,569.9 125.9,570.2 126.7,570.9 127.5,570.5 128.3,570.4 129.1,571.0 129.9,571.7 130.7,574.1 131.5,572.3 132.3,573.4 133.1,574.0 133.9,574.8 134.7,575.8 135.5,575.1 136.3,575.5 137.1,577.4 137.9,578.8 138.7,578.9 139.5,578.5 140.3,577.9 141.1,578.3 141.9,577.7 142.7,578.9 143.5,578.0 144.3,579.1 145.1,579.4 145.9,580.3 146.7,580.4 147.5,582.7 148.3,582.2 149.1,582.4 149.9,579.6 150.7,580.9 151.5,580.7 152.3,581.8 153.1,580.0 153.9,583.1 154.7,583.5 155.5,581.9 156.3,582.5 157.1,582.9 157.9,583.9 158.7,584.5 159.5,585.5 160.3,583.6 161.1,584.3 161.9,583.9 162.7,585.6 163.5,585.1 164.3,586.0 165.1,584.5 165.9,585.5 166.7,585.3 167.5,587.5 168.3,587.1 169.1,586.6 169.9,586.8 170.7,587.9 171.5,587.2 172.3,587.3 173.1,588.7 173.9,590.5 174.7,588.6 175.5,588.5 176.3,588.1 177.1,588.1 177.9,589.8 178.7,590.4 179.5,590.1 180.3,590.7 181.1,590.8 181.9,591.0 182.7,589.7 183.5,590.0 184.3,589.9 185.1,588.6 185.9,588.0 186.7,586.9 187.5,586.4 188.3,586.2 189.1,584.6 189.9,586.0 190.7,587.9 191.5,588.8 192.3,590.7 193.1,588.7 193.9,591.4 194.7,590.8 195.5,591.7 196.3,592.7 197.1,593.7 197.9,594.4 198.7,594.6 199.5,596.9 200.3,596.5 201.1,597.8 201.9,598.1 202.7,596.7 203.5,598.4 204.3,597.9 205.1,599.3 205.9,598.0 206.7,598.1 207.5,598.5 208.3,599.0 209.1,597.9 209.9,598.7 210.7,598.4 211.5,599.2 212.3,596.8 213.1,597.6 213.9,594.1 214.7,591.4 215.5,590.1 216.3,588.3 217.1,588.0 217.9,588.8 218.7,588.7 219.5,589.7 220.3,590.7 221.1,589.6 221.9,589.6 222.7,590.0 223.5,590.0 224.3,592.9 225.1,591.8 225.9,594.5 226.7,594.8 227.5,596.5 228.3,596.4 229.1,596.6 229.9,598.4 230.7,599.1 231.5,601.3 232.3,602.0 233.1,601.1 233.9,600.2 234.7,599.2 235.5,599.5 236.3,597.8 237.1,599.2 237.9,598.3 238.7,600.4 239.5,600.7 240.3,598.3 241.1,599.6 241.9,598.0 242.7,595.9 243.5,596.4 244.3,595.8 245.1,594.9 245.9,596.3 246.7,596.3 247.5,595.5 248.3,593.3 249.1,594.3 249.9,595.4 250.7,595.0 251.5,596.2 252.3,596.6 253.1,596.2 253.9,598.3 254.7,597.9 255.5,597.7 256.3,598.6 257.1,599.5 257.9,601.7 258.7,600.1 259.5,600.6 260.3,601.0 261.1,600.6 261.9,602.6 262.7,600.4 263.5,601.8 264.3,601.7 265.1,602.5 265.9,601.5 266.7,603.8 267.5,602.3 268.3,602.4 269.1,601.7 269.9,602.2 270.7,603.6 271.5,604.4 272.3,604.6 273.1,604.8 273.9,604.3 274.7,603.6 275.5,604.0 276.3,603.7 277.1,603.8 277.9,605.2 278.7,606.4 279.5,606.3 280.3,605.9 281.1,606.0 281.9,606.3 282.7,603.9 283.5,604.1 284.3,604.4 285.1,605.7 285.9,603.5 286.7,605.5 287.5,606.8 288.3,605.8 289.1,608.3 289.9,607.9 290.7,606.8 291.5,607.2 292.3,605.6 293.1,606.2 293.9,608.2 294.7,606.6 295.5,609.3 296.3,608.3 297.1,609.7 297.9,609.1 298.7,607.3 299.5,608.6 300.3,609.3 301.1,608.2 301.9,608.4 302.7,610.2 303.5,609.9 304.3,609.5 305.1,610.8 305.9,611.9 306.7,610.6 307.5,611.5 308.3,611.8 309.1,610.5 309.9,609.7 310.7,609.8 311.5,611.0 312.3,612.0 313.1,611.7 313.9,612.3 314.7,611.9 315.5,612.9 316.3,612.7 317.1,613.0 317.9,612.0 318.7,611.6 319.5,612.3 320.3,611.6 321.1,611.7 321.9,613.2 322.7,612.8 323.5,615.4 324.3,614.0 325.1,613.0 325.9,614.6 326.7,614.7 327.5,614.2 328.3,616.1 329.1,614.8 329.9,613.2 330.7,616.5 331.5,615.6 332.3,617.5 333.1,615.8 333.9,615.4 334.7,617.5 335.5,615.4 336.3,616.5 337.1,617.5 337.9,616.3 338.7,616.0 339.5,616.0 340.3,616.5 341.1,615.1 341.9,617.1 342.7,618.0 343.5,620.4 344.3,618.8 345.1,617.9 345.9,618.7 346.7,617.3 347.5,617.3 348.3,617.0 349.1,618.1 349.9,617.0 350.7,617.7 351.5,616.0 352.3,617.6 353.1,619.8 353.9,618.2 354.7,618.4 355.5,618.2 356.3,619.4 357.1,618.6 357.9,617.1 358.7,618.2 359.5,617.5 360.3,618.4 361.1,617.9 361.9,620.4 362.7,620.0 363.5,620.2 364.3,620.5 365.1,620.6 365.9,621.1 366.7,619.8 367.5,620.5 368.3,619.7 369.1,619.9 369.9,619.1 370.7,618.0 371.5,616.1 372.3,617.4 373.1,618.4 373.9,618.6 374.7,619.5 375.5,619.3 376.3,619.9 377.1,619.3 377.9,621.1 378.7,620.0 379.5,619.4 380.3,618.5 381.1,619.5 381.9,621.1 382.7,620.5 383.5,619.7 384.3,621.8 385.1,622.0 385.9,621.5 386.7,621.2 387.5,621.4 388.3,620.8 389.1,620.9 389.9,619.6 390.7,621.6 391.5,620.5 392.3,622.1 393.1,618.5 393.9,620.9 394.7,621.2 395.5,620.0 396.3,620.7 397.1,620.9 397.9,620.7 398.7,619.6 399.5,619.9 400.3,620.9 401.1,621.1 401.9,620.0 402.7,620.0 403.5,620.1 404.3,620.8 405.1,619.0 405.9,618.8 406.7,620.1 407.5,619.1 408.3,619.7 409.1,620.4 409.9,620.9 410.7,619.6 411.5,621.4 412.3,619.3 413.1,621.5 413.9,619.7 414.7,620.1 415.5,621.8 416.3,620.9 417.1,620.5 417.9,620.7 418.7,621.5 419.5,621.0 420.3,621.0 421.1,621.9 421.9,620.4 422.7,620.7 423.5,620.8 424.3,622.5 425.1,622.6 425.9,623.2 426.7,622.2 427.5,622.2 428.3,623.2 429.1,622.0 429.9,623.1 430.7,622.9 431.5,621.4 432.3,621.7 433.1,621.4 433.9,622.8 434.7,623.4 435.5,621.0 436.3,621.2 437.1,619.2 437.9,621.6 438.7,621.6 439.5,620.8 440.3,622.7 441.1,620.7 441.9,622.1 442.7,622.5 443.5,621.3 444.3,623.1 445.1,623.1 445.9,620.8 446.7,620.7 447.5,622.3 448.3,621.7 449.1,620.5 449.9,621.2 450.7,621.2 451.5,621.0 452.3,621.7 453.1,621.2 453.9,622.3 454.7,621.8 455.5,621.1 456.3,621.4 457.1,621.5 457.9,620.9 458.7,619.2 459.5,621.2 460.3,620.6 461.1,622.1 461.9,620.9 462.7,621.5 463.5,621.5 464.3,622.9 465.1,621.8 465.9,621.7 466.7,622.3 467.5,621.7 468.3,622.3 469.1,622.0 469.9,622.1 470.7,623.4 471.5,621.2 472.3,621.4 473.1,621.0 473.9,621.5 474.7,619.6 475.5,619.9 476.3,620.4 477.1,620.9 477.9,620.3 478.7,620.0 479.5,619.7 480.3,621.0 481.1,621.8 481.9,620.8 482.7,620.6 483.5,620.8 484.3,619.6 485.1,620.1 485.9,620.1 486.7,620.6 487.5,620.3 488.3,619.2 489.1,621.3 489.9,621.9 490.7,620.1 491.5,620.7 492.3,620.7 493.1,621.2 493.9,619.2 494.7,622.0 495.5,620.2 496.3,621.8 497.1,620.8 497.9,620.5 498.7,620.8 499.5,621.8 500.3,620.3 501.1,620.7 501.9,620.6 502.7,619.5 503.5,622.1 504.3,621.3 505.1,620.6 505.9,621.5 506.7,619.5 507.5,620.2 508.3,621.8 509.1,621.1 509.9,618.3 510.7,617.4 511.5,619.5 512.3,621.6 513.1,620.4 513.9,620.9 514.7,621.8 515.5,620.8 516.3,622.0 517.1,622.8 517.9,622.7 518.7,622.8 519.5,622.0 520.3,623.0 521.1,622.1 521.9,623.6 522.7,624.7 523.5,621.6 524.3,620.0 525.1,621.3 525.9,621.7 526.7,622.0 527.5,621.8 528.3,620.0 529.1,619.9 529.9,621.8 530.7,619.7 531.5,621.7 532.3,620.5 533.1,621.5 533.9,621.5 534.7,621.7 535.5,621.8 536.3,620.2 537.1,621.4 537.9,621.1 538.7,621.4 539.5,622.2 540.3,620.9 541.1,620.5 541.9,620.6 542.7,621.0 543.5,622.1 544.3,620.7 545.1,622.4 545.9,621.6 546.7,621.1 547.5,620.0 548.3,621.3 549.1,621.5 549.9,619.2 550.7,621.7 551.5,622.0 552.3,620.7 553.1,620.8 553.9,622.5 554.7,621.4 555.5,619.6 556.3,620.5 557.1,620.5 557.9,620.6 558.7,618.8 559.5,621.7 560.3,620.6 561.1,621.4 561.9,621.3 562.7,622.2 563.5,621.2 564.3,620.8 565.1,622.0 565.9,622.8 566.7,621.3 567.5,622.8 568.3,621.8 569.1,621.1 569.9,622.9 570.7,620.8 571.5,622.4 572.3,621.0 573.1,621.9 573.9,620.3 574.7,620.6 575.5,622.2 576.3,621.3 577.1,621.1 577.9,620.5 578.7,621.2 579.5,619.4 580.3,619.7 581.1,620.5 581.9,620.0 582.7,620.1 583.5,620.8 584.3,620.8 584.7,620.8" stroke="#000" stroke-width="2.75" stroke-linejoin="round" stroke-linecap="round"/>
</g>
<rect x="226.0" y="433.30" width="330.35" height="70.00" rx="2.2" fill="#fff" fill-opacity="0.8" stroke="#cccccc" stroke-width="1.1"/>
<path d="M230.15,444.05h20.6" stroke="#1f77b4" stroke-width="2.229" stroke-dasharray="14.27,3.57,2.23,3.57" fill="none"/>
<text transform="translate(262.35 449.95) scale(0.9772 1)" x="-0.29 7.55" y="0" font-size="11.92">Pt</text>
<text transform="translate(275.07 445.45) scale(1.2213 1)" x="0.26" y="0" font-size="7.91">+</text>
<text transform="translate(285.90 449.95) scale(1.0256 1)" x="0.20" y="0" font-size="11.92">:</text>
<text transform="translate(300.40 449.95) scale(1.0275 1)" x="0.18 7.14 14.08 17.64 24.49 28.07 34.53 42.25 45.77 49.44 56.68 59.53 63.64 70.61" y="0" font-size="11.92">69.9 eV, 4f-5d</text>
<path d="M230.15,464.68h20.6" stroke="#2ca02c" stroke-width="2.229" stroke-dasharray="14.27,3.57,2.23,3.57" fill="none"/>
<text transform="translate(262.35 470.58) scale(0.9772 1)" x="-0.29 7.55" y="0" font-size="11.92">Pt</text>
<text transform="translate(273.05 466.08) scale(1.0963 1)" x="-0.12 4.91" y="0" font-size="7.91">2+</text>
<text transform="translate(285.90 470.58) scale(1.0256 1)" x="0.20" y="0" font-size="11.92">:</text>
<text transform="translate(300.40 470.58) scale(1.0112 1)" x="0.21 7.28 14.33 18.01 24.88 28.58 35.15 42.96 46.51 50.29 57.62 60.52 64.72 71.80" y="0" font-size="11.92">71.4 eV, 4f-5d</text>
<path d="M230.15,485.31h20.6" stroke="#9467bd" stroke-width="2.229" stroke-dasharray="14.27,3.57,2.23,3.57" fill="none"/>
<text transform="translate(262.35 491.21) scale(0.9772 1)" x="-0.29 7.55" y="0" font-size="11.92">Pt</text>
<text transform="translate(273.05 486.71) scale(1.0920 1)" x="-0.01 4.94" y="0" font-size="7.91">3+</text>
<text transform="translate(285.90 491.21) scale(1.0256 1)" x="0.20" y="0" font-size="11.92">:</text>
<text transform="translate(300.40 491.21) scale(1.0113 1)" x="0.21 7.36 14.33 18.01 24.88 28.58 35.15 42.96 46.50 50.29 57.62 60.52 64.71 71.79" y="0" font-size="11.92">73.0 eV, 4f-5d</text>
<path d="M402.10,444.05h20.6" stroke="#bcbd22" stroke-width="2.229" stroke-dasharray="14.27,3.57,2.23,3.57" fill="none"/>
<text transform="translate(433.95 449.95) scale(0.9772 1)" x="-0.29 7.55" y="0" font-size="11.92">Pt</text>
<text transform="translate(444.65 445.45) scale(1.0963 1)" x="-0.12 4.91" y="0" font-size="7.91">2+</text>
<text transform="translate(457.50 449.95) scale(1.0256 1)" x="0.20" y="0" font-size="11.92">:</text>
<text transform="translate(472.00 449.95) scale(1.0236 1)" x="0.19 7.23 14.14 17.75 24.58 28.19 34.68 42.42 45.94 49.64 56.90 59.76 63.93 70.89" y="0" font-size="11.92">83.0 eV, 4f-6d</text>
<path d="M402.10,464.68h20.6" stroke="#17becf" stroke-width="2.229" stroke-dasharray="14.27,3.57,2.23,3.57" fill="none"/>
<text transform="translate(433.95 470.58) scale(0.9772 1)" x="-0.29 7.55" y="0" font-size="11.92">Pt</text>
<text transform="translate(444.65 466.08) scale(1.0963 1)" x="-0.12 4.91" y="0" font-size="7.91">2+</text>
<text transform="translate(457.50 470.58) scale(1.0256 1)" x="0.20" y="0" font-size="11.92">:</text>
<text transform="translate(472.00 470.58) scale(1.0278 1)" x="0.18 7.17 14.08 17.52 24.48 28.06 34.52 42.24 45.75 49.43 56.66 59.51 63.66 70.59" y="0" font-size="11.92">86.2 eV, 4f-6d</text>
<path d="M402.10,485.31h20.6" stroke="#1f77b4" stroke-width="2.229" stroke-dasharray="8.25,3.57" fill="none"/>
<text transform="translate(433.95 491.21) scale(0.9772 1)" x="-0.29 7.55" y="0" font-size="11.92">Pt</text>
<text transform="translate(444.65 486.71) scale(1.0963 1)" x="-0.12 4.91" y="0" font-size="7.91">2+</text>
<text transform="translate(457.50 491.21) scale(1.0256 1)" x="0.20" y="0" font-size="11.92">:</text>
<text transform="translate(472.00 491.21) scale(1.0322 1)" x="0.16 7.10 14.01 17.58 24.38 27.93 34.36 42.05 45.56 49.21 56.41 59.25 63.38 70.28" y="0" font-size="11.92">89.8 eV, 4f-6d</text>
<text transform="translate(566.89 461.75) scale(0.9281 1)" font-size="29.12" style="stroke-width:0.6px"><tspan x="0.88" y="-1.80" font-size="25.73">(</tspan><tspan x="12.16" y="0">c</tspan><tspan x="30.11" y="-1.80" font-size="25.73">)</tspan></text>
<rect x="54.5" y="431.3" width="552.5" height="199.15000000000003" fill="none" stroke="#000" stroke-width="1.25"/>
<path d="M50.5,621.75H54.5" stroke="#000" stroke-width="1.25"/>
<text transform="translate(21.21 626.30) scale(1.0272 1)" x="0.33 7.25 10.96 18.01" y="0" font-size="11.56">0.05</text>
<path d="M50.5,578.38H54.5" stroke="#000" stroke-width="1.25"/>
<text transform="translate(21.21 582.92) scale(1.0318 1)" x="0.31 7.21 10.84 17.96" y="0" font-size="11.56">0.10</text>
<path d="M50.5,535.00H54.5" stroke="#000" stroke-width="1.25"/>
<text transform="translate(21.21 539.55) scale(1.0130 1)" x="0.38 7.38 11.11 18.31" y="0" font-size="11.56">0.15</text>
<path d="M50.5,491.62H54.5" stroke="#000" stroke-width="1.25"/>
<text transform="translate(21.21 496.18) scale(1.0341 1)" x="0.30 7.19 10.72 17.91" y="0" font-size="11.56">0.20</text>
<path d="M50.5,448.25H54.5" stroke="#000" stroke-width="1.25"/>
<text transform="translate(21.21 452.80) scale(1.0155 1)" x="0.37 7.35 10.98 18.26" y="0" font-size="11.56">0.25</text>
<path d="M72.32,630.45V634.65" stroke="#000" stroke-width="1.25"/>
<text transform="translate(65.04 646.85) scale(1.0326 1)" x="0.29 7.36" y="0" font-size="11.56">70</text>
<path d="M161.44,630.45V634.65" stroke="#000" stroke-width="1.25"/>
<text transform="translate(154.15 646.85) scale(1.0493 1)" x="0.25 7.20" y="0" font-size="11.56">80</text>
<path d="M250.55,630.45V634.65" stroke="#000" stroke-width="1.25"/>
<text transform="translate(243.26 646.85) scale(1.0606 1)" x="0.18 7.08" y="0" font-size="11.56">90</text>
<path d="M339.66,630.45V634.65" stroke="#000" stroke-width="1.25"/>
<text transform="translate(328.73 646.85) scale(1.0291 1)" x="0.26 7.40 14.48" y="0" font-size="11.56">100</text>
<path d="M428.77,630.45V634.65" stroke="#000" stroke-width="1.25"/>
<text transform="translate(417.85 646.85) scale(1.0135 1)" x="0.32 7.51 14.75" y="0" font-size="11.56">110</text>
<path d="M517.89,630.45V634.65" stroke="#000" stroke-width="1.25"/>
<text transform="translate(506.96 646.85) scale(1.0163 1)" x="0.31 7.38 14.70" y="0" font-size="11.56">120</text>
<path d="M607.00,630.45V634.65" stroke="#000" stroke-width="1.25"/>
<text transform="translate(596.07 646.85) scale(1.0149 1)" x="0.31 7.56 14.73" y="0" font-size="11.56">130</text>
<text transform="translate(244.20 667.60) scale(1.0537 1)" x="-0.56 10.60 21.11 32.02 38.07 48.63 58.89 63.60 75.38 85.92 96.87 102.99 113.95 123.40 128.93 135.64 145.59 158.79" y="0" font-size="17.80" style="stroke-width:0.35px">Photon Energy [eV]</text>
<text transform="translate(13.60 396.30) rotate(-90) scale(1.0614 1)" x="-0.15 12.05 22.29 31.21 42.12 48.73 58.49 69.66 79.88 89.43 99.49 105.01 111.27 123.77 130.38 140.75 147.37" y="0" font-size="17.69" style="stroke-width:0.35px">Absorbance [Arb.]</text>
</svg>
</body></html>
